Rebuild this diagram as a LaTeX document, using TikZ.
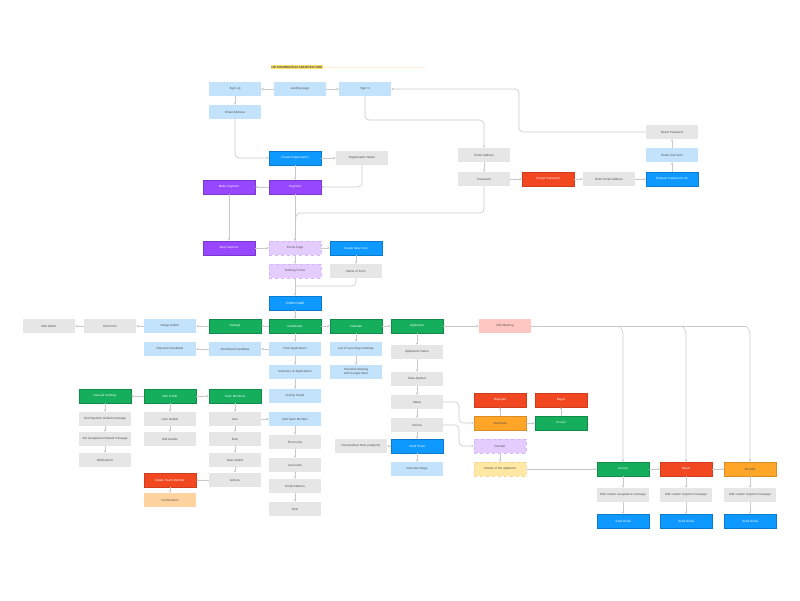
\documentclass[tikz,border=0pt]{standalone}
\usepackage{fontspec}
\setmainfont{Liberation Sans}
\usetikzlibrary{arrows.meta}
\definecolor{cLB}{HTML}{C2E3FB}
\definecolor{cGR}{HTML}{E6E6E6}
\definecolor{cBL}{HTML}{0D99FF}
\definecolor{cGN}{HTML}{14AE5C}
\definecolor{cPU}{HTML}{9747FF}
\definecolor{cRD}{HTML}{F24822}
\definecolor{cOR}{HTML}{FFA629}
\definecolor{cLV}{HTML}{E4CCFF}
\definecolor{cPE}{HTML}{FFD3A0}
\definecolor{cYE}{HTML}{FFE8A3}
\definecolor{cPK}{HTML}{FFC7C2}
\definecolor{cLN}{HTML}{C8C8C8}
\tikzset{
 box/.style={minimum width=52pt,minimum height=14pt,inner sep=0pt,font=\fontsize{3}{3.6}\selectfont,align=center,text width=48pt},
 lb/.style={box,fill=cLB,text=black!70},
 gr/.style={box,fill=cGR,text=black!70},
 bl/.style={box,fill=cBL,draw=cBL!80!black,line width=0.3pt,text=white},
 gn/.style={box,fill=cGN,draw=cGN!80!black,line width=0.3pt,text=white},
 pu/.style={box,fill=cPU,draw=cPU!80!black,line width=0.3pt,text=white},
 rd/.style={box,fill=cRD,draw=cRD!85!black,line width=0.4pt,text=white},
 orb/.style={box,fill=cOR,draw=cOR!85!black,line width=0.3pt,text=black!70},
 lv/.style={box,fill=cLV,draw=cPU!40,dashed,line width=0.3pt,text=black!70},
 pe/.style={box,fill=cPE,text=black!70},
 ye/.style={box,fill=cYE,draw=cOR!50,dashed,line width=0.3pt,text=black!70},
 pk/.style={box,fill=cPK,text=black!70},
 ar/.style={draw=cLN,line width=0.6pt,-{Stealth[length=2.5pt,width=2.5pt]},rounded corners=4pt},
 ln/.style={draw=cLN,line width=0.6pt,rounded corners=4pt}
}
\begin{document}
\begin{tikzpicture}[x=1pt,y=-1pt]
\useasboundingbox (0,0) rectangle (800,600);
% title
\node[fill=yellow!70!orange!60,inner sep=1pt,font=\fontsize{3}{3.6}\selectfont\bfseries,text=black!70] (title) at (297,67) {HR INFORMATION ARCHITECTURE};
\draw[draw=orange!15,line width=0.4pt] (title.east) -- (425,67);
% top
\node[lb] (signup) at (235,89) {Sign Up};
\node[lb] (landing) at (300,89) {Landing page};
\node[lb] (signin) at (365,89) {Sign In};
\node[lb] (email1) at (235,112) {Email Address};
\node[bl] (createorg) at (295,158) {Create Organization};
\node[gr] (orgname) at (362,158) {Organization Name};
\node[pu] (payment) at (295,187) {Payment};
\node[pu] (makepay) at (229,187) {Make Payment};
\node[pu] (skippay) at (229,248) {Skip Payment};
\node[gr] (email2) at (484,155) {Email Address};
\node[gr] (password) at (484,179) {Password};
\node[rd] (forgot) at (548,179) {Forgot Password};
\node[gr] (enteremail) at (609,179) {Enter Email Address};
\node[bl] (reqlink) at (672,179) {Request Password Link};
\node[lb] (linksent) at (672,155) {Email Link Sent};
\node[gr] (reset) at (672,132) {Reset Password};
\node[lv] (forms) at (295,248) {Forms Page};
\node[bl] (newform) at (356,248) {Create New Form};
\node[gr] (nameform) at (356,271) {Name of Form};
\node[lv] (existing) at (295,271) {Existing Forms};
\node[bl] (formname) at (295,303) {FORM NAME};
% main row
\node[gn] (dash) at (295,326) {Dashboard};
\node[gn] (settings) at (235,326) {Settings};
\node[lb] (assign) at (170,326) {Assign Admin};
\node[gr] (editform) at (110,326) {Edit Form};
\node[gr] (editadmin) at (49,326) {Edit Admin};
\node[gn] (calendar) at (356,326) {Calendar};
\node[gn] (applicants) at (417,326) {Applicants};
\node[pk] (editmeet) at (505,326) {Edit Meeting};
% dashboard column
\node[lb] (total) at (295,349) {Total Applications};
\node[lb] (summary) at (295,372) {Summary of Applications};
\node[lb] (activity) at (295,396) {Activity Feeds};
\node[lb] (shortc) at (235,349) {Shortlisted Candidate};
\node[lb] (rejc) at (170,349) {Rejected Candidate};
% profile
\node[gn] (editprof) at (170,396) {Edit Profile};
\node[gn] (general) at (105,396) {General Settings};
\node[gn] (team) at (235,396) {Team Members};
\node[gr] (setrej) at (105,419) {Set Rejection Default message};
\node[gr] (setacc) at (105,439) {Set Acceptance Default message};
\node[gr] (notif) at (105,460) {Notifications};
\node[gr] (userdet) at (170,419) {User Details};
\node[gr] (editdet) at (170,439) {Edit Details};
\node[gr] (user) at (235,419) {User};
\node[gr] (role1) at (235,439) {Role};
\node[gr] (dateadd) at (235,460) {Date Added};
\node[gr] (actions1) at (235,480) {Actions};
\node[rd] (deltm) at (170,480) {Delete Team Member};
\node[pe] (confirm) at (170,500) {Confirmation};
\node[lb] (addtm) at (295,419) {Add Team Member};
\node[gr] (first) at (295,442) {First name};
\node[gr] (last) at (295,465) {Last name};
\node[gr] (email3) at (295,486) {Email Address};
\node[gr] (role2) at (295,509) {Role};
% calendar
\node[lb] (upcoming) at (356,349) {List of upcoming meetings};
\node[lb] (schedule) at (356,372) {Schedule Meeting with Google Meet};
% applicants
\node[gr] (appname) at (417,352) {Applicant's Name};
\node[gr] (dateapp) at (417,379) {Date Applied};
\node[gr] (status) at (417,402) {Status};
\node[gr] (actions2) at (417,425) {Actions};
\node[bl] (sendemail) at (417,446) {Send Email};
\node[lb] (interview) at (417,469) {Interview Stage};
\node[gr] (note) at (361,446) {Personalized Note (subjects)};
\node[orb] (shortl) at (500,423) {Shortlistes};
\node[rd] (rejected) at (500,400) {Rejected};
\node[gn] (accept1) at (561,423) {Accept};
\node[rd] (reject1) at (561,400) {Reject};
\node[lv] (preview) at (500,446) {Preview};
\node[ye] (details) at (500,469) {Details of the Applicant};
\node[gn] (accept2) at (623,469) {Accept};
\node[rd] (reject2) at (686,469) {Reject};
\node[orb] (shortlist) at (750,469) {Shortlist};
\node[gr] (msgA) at (623,495) {Edit custom acceptance message};
\node[gr] (msgB) at (686,495) {Edit custom rejection message};
\node[gr] (msgC) at (750,495) {Edit custom rejection message};
\node[bl] (sendA) at (623,521) {Send Email};
\node[bl] (sendB) at (686,521) {Send Email};
\node[bl] (sendC) at (750,521) {Send Email};
% connectors top
\draw[ar] (landing) -- (signup);
\draw[ar] (landing) -- (signin);
\draw[ar] (signup) -- (email1);
\draw[ar] (email1.south) |- (createorg.west);
\draw[ar] (createorg) -- (orgname);
\draw[ar] (orgname.south) |- (payment.east);
\draw[ar] (createorg) -- (payment);
\draw[ar] (payment) -- (makepay);
\draw[ar] (makepay) -- (skippay);
\draw[ar] (skippay) -- (forms);
\draw[ar] (payment) -- (forms);
\draw[ar] (signin.south) |- (484,120) -- (email2.north);
\draw[ar] (email2) -- (password);
\draw[ar] (password) -- (forgot);
\draw[ar] (forgot) -- (enteremail);
\draw[ar] (enteremail) -- (reqlink);
\draw[ar] (reqlink) -- (linksent);
\draw[ar] (linksent) -- (reset);
\draw[ar] (reset.west) -| (519,89) -- (signin.east);
\draw[ar] (password.south) |- (296,213) -- (forms.north);
\draw[ar] (forms) -- (newform);
\draw[ar] (newform) -- (nameform);
\draw[ar] (forms) -- (existing);
\draw[ar] (existing) -- (formname);
\draw[ln] (nameform.south) |- (295,286);
\draw[ar] (formname) -- (dash);
% main row
\draw[ar] (dash) -- (settings);
\draw[ar] (settings) -- (assign);
\draw[ar] (assign) -- (editform);
\draw[ar] (editform) -- (editadmin);
\draw[ar] (dash) -- (calendar);
\draw[ar] (calendar) -- (applicants);
\draw[ar] (applicants) -- (editmeet);
\draw[ln] (editmeet.east) -- (746,326);
\draw[ar] (619,326) -- (623,330) -- (accept2.north);
\draw[ar] (682,326) -- (686,330) -- (reject2.north);
\draw[ar] (746,326) -- (750,330) -- (shortlist.north);
\draw[ar] (dash) -- (total);
\draw[ar] (total) -- (summary);
\draw[ar] (summary) -- (activity);
\draw[ar] (total) -- (shortc);
\draw[ar] (shortc) -- (rejc);
\draw[ar] (editprof) -- (general);
\draw[ar] (editprof) -- (team);
\draw[ar] (general) -- (setrej);
\draw[ar] (setrej) -- (setacc);
\draw[ar] (setacc) -- (notif);
\draw[ar] (editprof) -- (userdet);
\draw[ar] (userdet) -- (editdet);
\draw[ar] (team) -- (user);
\draw[ar] (user) -- (role1);
\draw[ar] (role1) -- (dateadd);
\draw[ar] (dateadd) -- (actions1);
\draw[ar] (actions1) -- (deltm);
\draw[ar] (deltm) -- (confirm);
\draw[ar] (user) -- (addtm);
\draw[ar] (addtm) -- (first);
\draw[ar] (first) -- (last);
\draw[ar] (last) -- (email3);
\draw[ar] (email3) -- (role2);
\draw[ar] (calendar) -- (upcoming);
\draw[ar] (upcoming) -- (schedule);
\draw[ar] (applicants) -- (appname);
\draw[ar] (appname) -- (dateapp);
\draw[ar] (dateapp) -- (status);
\draw[ar] (status) -- (actions2);
\draw[ar] (actions2) -- (sendemail);
\draw[ar] (sendemail) -- (interview);
\draw[ar] (sendemail) -- (note);
\draw[ar] (status.east) -| (459,423) -- (shortl.west);
\draw[ar] (actions2.east) -| (459,446) -- (preview.west);
\draw[ar] (shortl) -- (rejected);
\draw[ar] (shortl) -- (accept1);
\draw[ar] (accept1) -- (reject1);
\draw[ar] (preview) -- (details);
\draw[ar] (details) -- (accept2);
\draw[ar] (accept2) -- (reject2);
\draw[ar] (reject2) -- (shortlist);
\draw[ar] (accept2) -- (msgA);
\draw[ar] (reject2) -- (msgB);
\draw[ar] (shortlist) -- (msgC);
\draw[ar] (msgA) -- (sendA);
\draw[ar] (msgB) -- (sendB);
\draw[ar] (msgC) -- (sendC);
\end{tikzpicture}
\end{document}
